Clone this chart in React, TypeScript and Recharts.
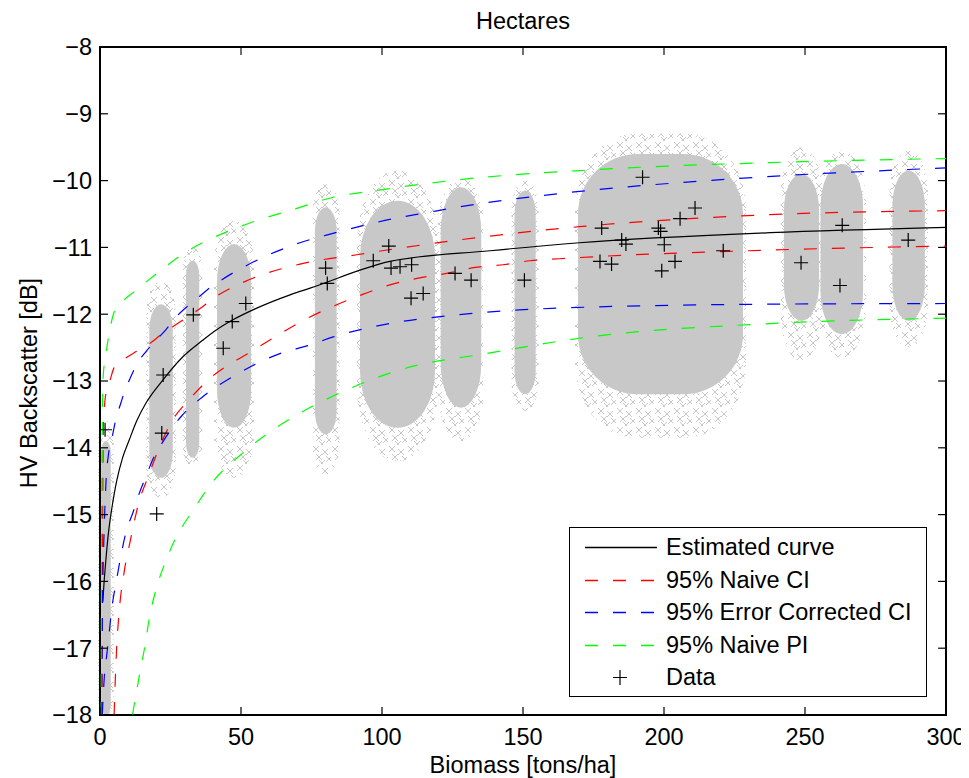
import React from 'react';
import { ComposedChart, Line, Scatter, XAxis, YAxis, ReferenceArea, Legend } from 'recharts';

const FONT = '"Liberation Sans", Arial, Helvetica, sans-serif';
const FS = 23.5;

const xTicks = [0, 50, 100, 150, 200, 250, 300];
const yTicks = [-18, -17, -16, -15, -14, -13, -12, -11, -10, -9, -8];

// estimated curve
const estX = [1, 1.5, 2, 3, 4, 5, 6, 8, 10.4, 13, 16.3, 22.2, 29.3, 36.4, 41.1, 47.3, 55, 67.4, 74.5, 102.8, 138.3, 170, 237.6, 300];
const estY = [-16.3, -15.98, -15.72, -15.27, -14.96, -14.7, -14.48, -14.15, -13.88, -13.6, -13.33, -12.99, -12.64, -12.39, -12.24, -12.08, -11.92, -11.71, -11.61, -11.21, -11.05, -10.93, -10.78, -10.7];

// 95% naive CI
const ciUpX = [0.7, 0.9, 1.2, 1.5, 2.1, 3.3, 5, 8, 12.8, 16.9, 22.2, 25.7, 30, 35, 41, 52, 70.9, 91, 114.6, 138.3, 170, 237.6, 300];
const ciUpY = [-18, -15.5, -13.65, -13.43, -13.18, -13.03, -12.8, -12.69, -12.56, -12.46, -12.29, -12.19, -12.07, -11.93, -11.74, -11.5, -11.25, -11.11, -10.96, -10.83, -10.69, -10.51, -10.45];
const ciLoX = [5, 5.4, 5.9, 6.8, 8.6, 10.7, 13.9, 17.1, 20.7, 25.5, 31.6, 38.5, 54.4, 74.1, 83.3, 93.4, 102.8, 112.9, 122.9, 133, 143, 152.5, 163, 237.6, 300];
const ciLoY = [-18, -17.5, -17, -16.45, -15.85, -15.4, -14.8, -14.43, -14.03, -13.6, -13.28, -12.98, -12.54, -12.05, -11.87, -11.7, -11.56, -11.46, -11.39, -11.3, -11.26, -11.2, -11.17, -11.04, -10.98];

// 95% error corrected CI
const ecUpX = [0.5, 0.9, 1.5, 2.2, 3, 4.5, 5.7, 7.4, 8.6, 11, 13.3, 16.3, 19.9, 23.4, 27, 30.5, 34.6, 38.2, 42.6, 52, 70.9, 82.6, 94.6, 105.2, 114.6, 126.5, 144.2, 166, 225.8, 300];
const ecUpY = [-18, -16.3, -15.2, -14.45, -14.1, -13.8, -13.56, -13.33, -13.17, -12.93, -12.73, -12.56, -12.39, -12.23, -12.04, -11.9, -11.76, -11.63, -11.5, -11.27, -10.93, -10.79, -10.66, -10.56, -10.49, -10.4, -10.29, -10.18, -9.97, -9.81];
const ecLoX = [0.8, 1.5, 2.4, 3.3, 4.2, 5.7, 7.4, 9.5, 11.6, 13.6, 16.3, 19, 22, 29, 36, 47.3, 63.8, 74.5, 82.7, 102.8, 126.5, 162, 237.6, 300];
const ecLoY = [-18, -17.45, -17.1, -16.75, -16.4, -16.02, -15.62, -15.22, -14.98, -14.72, -14.43, -14.15, -13.93, -13.52, -13.25, -12.93, -12.59, -12.46, -12.34, -12.14, -12.01, -11.91, -11.85, -11.84];

// 95% naive PI
const piUpX = [0.3, 0.45, 0.7, 1.1, 2, 3, 5, 8, 12.2, 15.7, 20.5, 30, 35.5, 49.6, 70.9, 79, 102.8, 126.5, 173.8, 237.6, 300];
const piUpY = [-18, -16, -14.3, -12.95, -12.62, -12.35, -11.97, -11.81, -11.66, -11.54, -11.38, -11.08, -10.95, -10.69, -10.4, -10.29, -10.12, -9.99, -9.84, -9.73, -9.67];
const piLoX = [11.5, 14, 16, 17.5, 20, 23, 26.3, 33.1, 39.6, 52, 70.9, 80, 107.5, 138.3, 170, 237.6, 300];
const piLoY = [-18, -17.4, -16.95, -16.55, -16.1, -15.73, -15.4, -14.93, -14.53, -14.03, -13.48, -13.28, -12.82, -12.58, -12.36, -12.14, -12.06];

// observed data (+)
const dataX = [1.8, 20.1, 21.9, 22.4, 33.1, 43.7, 46.9, 51.7, 80, 80.6, 96.9, 102.4, 103.2, 106.4, 110.5, 110.3, 114.6, 125.9, 131.6, 150.5, 177.3, 177.9, 181.4, 185, 186.5, 192.4, 198, 198.8, 199.2, 200.1, 203.9, 205.7, 211, 221, 248.6, 262.4, 263.2, 286.6];
const dataY = [-13.73, -14.99, -13.78, -12.91, -12.01, -12.51, -12.11, -11.84, -11.31, -11.54, -11.2, -10.98, -11.31, -11.29, -11.26, -11.76, -11.69, -11.39, -11.49, -11.49, -11.21, -10.71, -11.25, -10.89, -10.95, -9.95, -10.71, -10.76, -11.35, -10.96, -11.21, -10.57, -10.41, -11.05, -11.23, -11.57, -10.67, -10.89];

// gray simulation clouds: dense core and sparse fringe
const cloudLeft = [0.4, 17.5, 30.5, 41.5, 76.2, 92.2, 120.8, 147, 169.5, 242.5, 255.5, 281];
const cloudRight = [3.8, 25.8, 35.2, 53.6, 83.9, 118.8, 135.2, 154.5, 228, 255, 270.6, 292.5];
const cloudTop = [-13.9, -11.85, -11.2, -10.95, -10.4, -10.3, -10.1, -10.15, -9.6, -9.9, -9.75, -9.85];
const cloudBottom = [-18, -14.45, -14.15, -13.7, -13.8, -13.7, -13.4, -13.2, -13.2, -12.1, -12.3, -12.1];
const fringeTop = [-13.6, -11.5, -11.0, -10.6, -10.05, -9.85, -9.95, -10.0, -9.3, -9.5, -9.55, -9.55];
const fringeBottom = [-18, -14.75, -14.3, -14.45, -14.4, -14.2, -13.9, -13.45, -13.85, -12.7, -12.65, -12.5];

const toPts = (xs: number[], ys: number[]) => xs.map((x, i) => ({ x, y: ys[i] }));

const series = [
  { name: 'Estimated curve', color: '#000000', dash: undefined as string | undefined },
  { name: '95% Naive CI', color: '#ff0000', dash: '13 15' },
  { name: '95% Error Corrected CI', color: '#0000ff', dash: '13 15' },
  { name: '95% Naive PI', color: '#00ff00', dash: '13 15' },
];

const curves = [
  { id: 'est', pts: toPts(estX, estY), s: series[0] },
  { id: 'ciUp', pts: toPts(ciUpX, ciUpY), s: series[1] },
  { id: 'ciLo', pts: toPts(ciLoX, ciLoY), s: series[1] },
  { id: 'ecUp', pts: toPts(ecUpX, ecUpY), s: series[2] },
  { id: 'ecLo', pts: toPts(ecLoX, ecLoY), s: series[2] },
  { id: 'piUp', pts: toPts(piUpX, piUpY), s: series[3] },
  { id: 'piLo', pts: toPts(piLoX, piLoY), s: series[3] },
];

const GRAY = '#c8c8c8';
// offsets of the little 'x' glyphs inside one texture tile of the cloud fringe
const texture = [[1, 1], [10, 4], [4, 9], [14, 11], [7, 15]];

const CloudCore = (props: any) => {
  const { x, y, width, height } = props;
  const rx = Math.min(width / 2, 60);
  const ry = Math.min(height / 4, rx * 2.2);
  return <rect x={x} y={y} width={width} height={height} rx={rx} ry={ry} fill={GRAY} />;
};

const CloudFringe = (props: any) => {
  const { x, y, width, height } = props;
  const w = width + 6;
  const rx = Math.min(w / 2, 60);
  const ry = Math.min(height / 4, rx * 2.2);
  return <rect x={x - 3} y={y} width={w} height={height} rx={rx} ry={ry} fill="url(#xpat)" />;
};

const Frame = (props: any) => {
  const { x, y, width, height } = props;
  return <rect x={x} y={y} width={width} height={height} fill="none" stroke="#000" strokeWidth={2} />;
};

const Plus = (props: any) => {
  const { cx, cy } = props;
  return <path d={`M${cx - 7},${cy}H${cx + 7}M${cx},${cy - 7}V${cy + 7}`} stroke="#000" strokeWidth={1.2} fill="none" />;
};

const txt = { fontFamily: FONT, fontSize: FS, fill: '#000' };
const fmt = (v: number) => (v < 0 ? '\u2212' + Math.abs(v) : String(v));

const BottomTick = ({ x, y, payload }: any) => (
  <g>
    <rect x={x - 0.6} y={y - 8} width={1.2} height={8} fill="#000" />
    <text x={x} y={y + 30} textAnchor="middle" {...txt}>{payload.value}</text>
  </g>
);
const LeftTick = ({ x, y, payload }: any) => (
  <g>
    <rect x={x} y={y - 0.6} width={8} height={1.2} fill="#000" />
    <text x={x - 8} y={y + 8.4} textAnchor="end" {...txt}>{fmt(payload.value)}</text>
  </g>
);

// tick length on the mirrored top / right sides, in data units (about 8 px)
const TOP_TICK = 0.12;
const RIGHT_TICK = 2.8;

const LegendBox = () => (
  <svg width={358} height={170} style={{ display: 'block' }}>
    <rect x={0.5} y={0.5} width={357} height={169} fill="#fff" stroke="#000" />
    {series.map((s, i) => {
      const cy = 20 + Math.round(i * 32.5);
      return (
        <g key={s.name}>
          <line x1={16} x2={88} y1={cy + 0.5} y2={cy + 0.5} stroke={s.color} strokeWidth={1.4} strokeDasharray={s.dash} />
          <text x={97} y={cy + 8.4} {...txt}>{s.name}</text>
        </g>
      );
    })}
    <path d="M44,150.5H58M51,143V158" stroke="#000" strokeWidth={1.2} />
    <text x={97} y={158.4} {...txt}>Data</text>
  </svg>
);

export default function App() {
  return (
    <div style={{ width: 961, height: 770, position: 'relative' }}>
      <ComposedChart width={961} height={770} margin={{ top: 39, right: 23, bottom: 0, left: 0 }}>
        <defs>
          <pattern id="xpat" width="19" height="19" patternUnits="userSpaceOnUse">
            {texture.map(([a, b], k) => (
              <path key={k} d={`M${a},${b}l6,6M${a + 6},${b}l-6,6`} stroke={GRAY} strokeWidth={1} />
            ))}
          </pattern>
        </defs>
        <XAxis type="number" dataKey="x" domain={[0, 300]} ticks={xTicks} interval={0} allowDataOverflow
          height={63} tickSize={0} tickMargin={0} tickLine={false} axisLine={{ stroke: '#000' }} tick={<BottomTick />}
          label={{
            content: () => (
              <g>
                <text x={515} y={765} textAnchor="middle" {...txt}>Biomass [tons/ha]</text>
                <text x={515} y={21} textAnchor="middle" {...txt}>Hectares</text>
              </g>
            ),
          }} />
        <YAxis type="number" dataKey="y" domain={[-18, -8]} ticks={yTicks} interval={0} allowDataOverflow
          width={92} tickSize={0} tickMargin={0} tickLine={false} axisLine={{ stroke: '#000' }} tick={<LeftTick />}
          label={{ content: () => <text transform="translate(29,375) rotate(-90)" textAnchor="middle" {...txt}>HV Backscatter [dB]</text> }} />

        {cloudLeft.map((x1, i) => (
          <ReferenceArea key={`f${i}`} x1={x1} x2={cloudRight[i]} y1={fringeBottom[i]} y2={fringeTop[i]}
            ifOverflow="hidden" shape={<CloudFringe />} />
        ))}
        {cloudLeft.map((x1, i) => (
          <ReferenceArea key={`c${i}`} x1={x1} x2={cloudRight[i]} y1={cloudBottom[i]} y2={cloudTop[i]}
            ifOverflow="hidden" shape={<CloudCore />} />
        ))}

        {curves.map((c) => (
          <Line key={c.id} name={c.id} data={c.pts} dataKey="y" type="monotone" dot={false} activeDot={false}
            stroke={c.s.color} strokeWidth={1.2} strokeDasharray={c.s.dash} isAnimationActive={false} />
        ))}
        <Scatter name="data" data={toPts(dataX, dataY)} dataKey="y" shape={<Plus />} isAnimationActive={false} />

        <ReferenceArea x1={0} x2={300} y1={-18} y2={-8} ifOverflow="hidden" shape={<Frame />} />
        {xTicks.map((t) => (
          <ReferenceArea key={`tt${t}`} x1={t - 0.2} x2={t + 0.2} y1={-8 - TOP_TICK} y2={-8} ifOverflow="hidden" fill="#000" fillOpacity={1} />
        ))}
        {yTicks.map((t) => (
          <ReferenceArea key={`rt${t}`} x1={300 - RIGHT_TICK} x2={300} y1={t - 0.009} y2={t + 0.009} ifOverflow="hidden" fill="#000" fillOpacity={1} />
        ))}

        <Legend layout="horizontal" verticalAlign="middle" align="center" content={() => <LegendBox />}
          wrapperStyle={{ position: 'absolute', left: 561, top: 519, width: 358, height: 170 }} />
      </ComposedChart>
    </div>
  );
}
